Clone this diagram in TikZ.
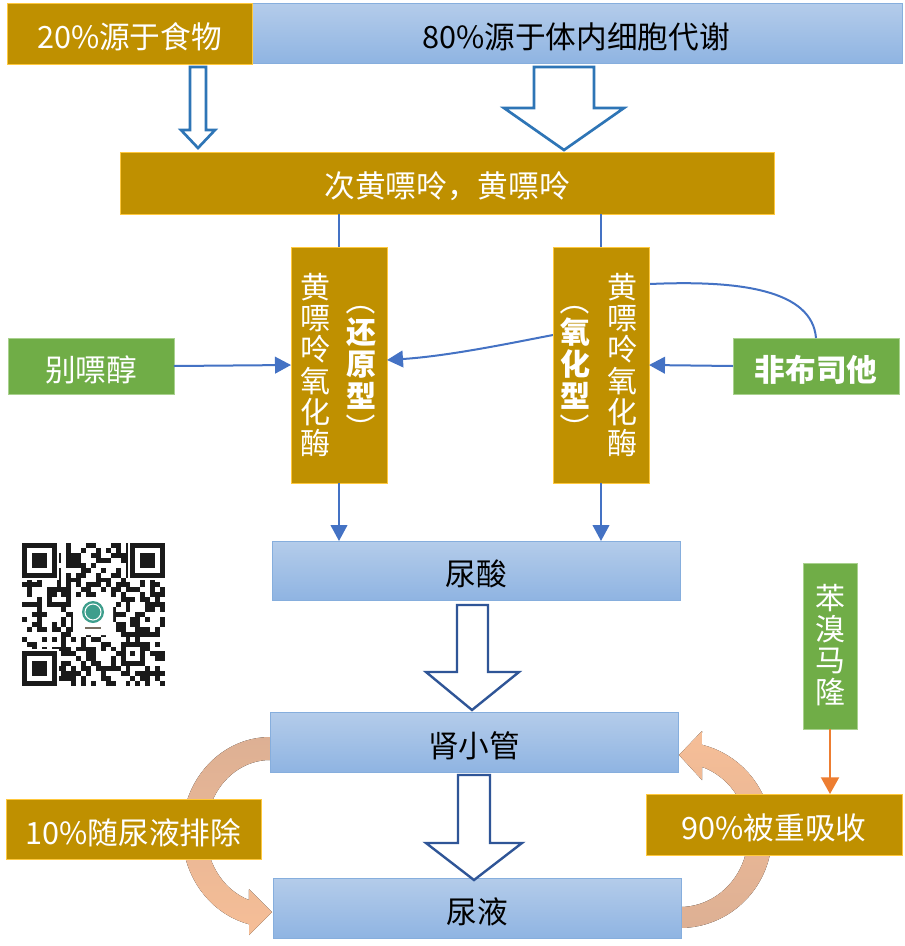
\documentclass[tikz,border=0pt]{standalone}
\usepackage{fontspec}
\usepackage{graphicx}
\setmainfont{Noto Sans CJK SC}
\usetikzlibrary{arrows.meta,calc}
\definecolor{gold}{HTML}{BF9000}
\definecolor{goldedge}{HTML}{FFC83D}
\definecolor{grn}{HTML}{70AD47}
\definecolor{grnedge}{HTML}{A9D18E}
\definecolor{bluetop}{HTML}{B4CCEA}
\definecolor{bluebot}{HTML}{8FB4E2}
\definecolor{blueedge}{HTML}{86AEDD}
\definecolor{conn}{HTML}{4472C4}
\definecolor{hollowa}{HTML}{2E75B6}
\definecolor{hollowb}{HTML}{2F5597}
\definecolor{orng}{HTML}{ED7D31}
\definecolor{tanc}{HTML}{DDB094}
\definecolor{peach}{HTML}{F6BE97}
\definecolor{qrc}{HTML}{1A1A1A}
\definecolor{logoc}{HTML}{3E9E8C}
\tikzset{
  box/.style={inner sep=0pt, outer sep=0pt, align=center, line width=0.75pt},
  goldbox/.style={box, fill=gold, draw=goldedge, text=white},
  grnbox/.style={box, fill=grn, draw=grnedge, text=white},
  bluebox/.style={box, top color=bluetop, bottom color=bluebot, draw=blueedge, text=black},
  vtext/.style={text=white, align=center, inner sep=0pt, font=\fontsize{22.5}{23.3}\selectfont},
  vtextp/.style={text=white, align=center, inner sep=0pt, font=\fontsize{22.5}{24}\selectfont},
  conline/.style={draw=conn, line width=1.5pt},
  conarrow/.style={conline, -{Triangle[width=12.5pt,length=12pt]}},
  hollowa/.style={draw=hollowa, fill=white, line width=2pt, line join=miter},
  hollowb/.style={draw=hollowb, fill=white, line width=1.8pt, line join=miter},
  qrmod/.style={fill=qrc},
}
\newcommand\mkbox[7]{\node[#6, minimum width={(#4-#2)*0.75pt}, minimum height={(#5-#3)*0.75pt}] (#1) at ({(#2+#4)/2},{(#3+#5)/2}) {\raisebox{-2.6pt}[\height][\depth]{#7}};}
\newcommand\vopen{\rotatebox[origin=c]{-90}{（}}
\newcommand\vclose{\rotatebox[origin=c]{-90}{）}}
\newcommand\qrfinder[2]{%
  \fill[white] ({22+(#1-0.5)*4.93},{543+(#2-0.5)*4.93}) rectangle ++(8*4.93,8*4.93);
  \fill[qrc] ({22+#1*4.93},{543+#2*4.93}) rectangle ++(7*4.93,7*4.93);
  \fill[white] ({22+(#1+1)*4.93},{543+(#2+1)*4.93}) rectangle ++(5*4.93,5*4.93);
  \fill[qrc] ({22+(#1+2)*4.93},{543+(#2+2)*4.93}) rectangle ++(3*4.93,3*4.93);}
\begin{document}
\begin{tikzpicture}[x=0.75pt,y=-0.75pt, font=\fontsize{23}{27}\selectfont]
\useasboundingbox[fill=white] (0,0) rectangle (904,946);

% curved broad arrows (behind boxes)
\fill[top color=tanc, bottom color=peach]
  plot[domain=270:103.8, samples=40] ({270+88*cos(\x)},{832+95*sin(\x)})
  -- (249,935) -- (272,912) -- (249,889)
  -- plot[domain=109.2:270, samples=40] ({270+64*cos(\x)},{832+72*sin(\x)}) -- cycle;
\fill[top color=peach, bottom color=tanc]
  plot[domain=90:-76.2, samples=40] ({680+92*cos(\x)},{835+93*sin(\x)})
  -- (702,731) -- (679,755) -- (702,780)
  -- plot[domain=-71.1:90, samples=40] ({680+68*cos(\x)},{835+72*sin(\x)}) -- cycle;

% boxes
\mkbox{cell}{250}{3}{902}{63}{bluebox}{80\%源于体内细胞代谢}
\mkbox{food}{7}{3}{252}{64}{goldbox}{20\%源于食物}
\mkbox{hx}{120}{152}{774}{214}{goldbox}{次黄嘌呤，黄嘌呤}
\mkbox{allo}{8}{338}{174}{394}{grnbox}{别嘌醇}
\mkbox{febu}{733}{338}{899}{394}{grnbox}{\bfseries 非布司他}
\mkbox{red}{291}{247}{387}{483}{goldbox}{}

% curve from febuxostat (passes behind the oxidized enzyme box)
\draw[conarrow] (febu.north) .. controls (812,290) and (740,280) .. (650,284)
  .. controls (600,286) and (590,328) .. (553,335)
  .. controls (516,342) and (450,356) .. ($(red.east)+(0,-5)$);

\mkbox{oxi}{553}{247}{649}{483}{goldbox}{}
\node[vtext] (redA) at (315,365) {黄\\嘌\\呤\\氧\\化\\酶};
\node[vtextp] (redB) at (361,364) {\vopen\\\bfseries 还\\\bfseries 原\\\bfseries 型\\\vclose};
\node[vtextp] (oxiA) at (575,364) {\vopen\\\bfseries 氧\\\bfseries 化\\\bfseries 型\\\vclose};
\node[vtext] (oxiB) at (622,365) {黄\\嘌\\呤\\氧\\化\\酶};

\mkbox{uric}{272}{541}{680}{600}{bluebox}{尿酸}
\mkbox{tub}{270}{712}{678}{772}{bluebox}{肾小管}
\mkbox{urine}{273}{878}{681}{938}{bluebox}{尿液}
\mkbox{benz}{803}{563}{857}{729}{grnbox}{}
\node[vtext] (benzT) at (830,645) {苯\\溴\\马\\隆};
\mkbox{r90}{646}{794}{902}{855}{goldbox}{90\%被重吸收}
\mkbox{e10}{6}{799}{261}{859}{goldbox}{10\%随尿液排除}

% hollow arrows
\draw[hollowa] (190,67) -- (206,67) -- (206,130) -- (215,130) -- (198,148) -- (181,130) -- (190,130) -- cycle;
\draw[hollowa] (534,67) -- (594,67) -- (594,108) -- (624,108) -- (564,150) -- (504,108) -- (534,108) -- cycle;
\draw[hollowb] (457,605) -- (488,605) -- (488,672) -- (519,672) -- (472,710) -- (426,672) -- (457,672) -- cycle;
\draw[hollowb] (458,775) -- (490,775) -- (490,843) -- (522,843) -- (474,880) -- (426,843) -- (458,843) -- cycle;

% connectors
\draw[conline] (red.north |- hx.south) -- (red.north);
\draw[conline] (oxi.north |- hx.south) -- (oxi.north);
\draw[conarrow] (allo.east) -- (red.west);
\draw[conarrow] (febu.west) -- (oxi.east);
\draw[conarrow] (red.south) -- (red.south |- uric.north);
\draw[conarrow] (oxi.south) -- (oxi.south |- uric.north);
\draw[draw=orng, line width=1.5pt, -{Triangle[width=13.5pt,length=12.5pt]}] (benz.south) -- (benz.south |- r90.north);

% QR code
\pgfmathsetseed{20}
\foreach \i in {0,...,28}{\foreach \j in {0,...,28}{%
  \pgfmathtruncatemacro\qb{rnd<0.47 ? 1 : 0}%
  \ifnum\qb=1 \fill[qrmod] ({22+\i*4.93},{543+\j*4.93}) rectangle ++(4.93,4.93);\fi}}
\qrfinder{0}{0}
\qrfinder{22}{0}
\qrfinder{0}{22}
\fill[qrc] ({22+20*4.93},{543+20*4.93}) rectangle ++(5*4.93,5*4.93);
\fill[white] ({22+21*4.93},{543+21*4.93}) rectangle ++(3*4.93,3*4.93);
\fill[qrc] ({22+22*4.93},{543+22*4.93}) rectangle ++(4.93,4.93);
\fill[white, rounded corners=2pt] (73,597) rectangle (113,635);
\fill[logoc] (93,612) circle (11);
\draw[white, line width=0.8pt] (93,612) circle (8);
\fill[logoc!70!red] (85,627) rectangle (101,629);
\end{tikzpicture}
\end{document}
